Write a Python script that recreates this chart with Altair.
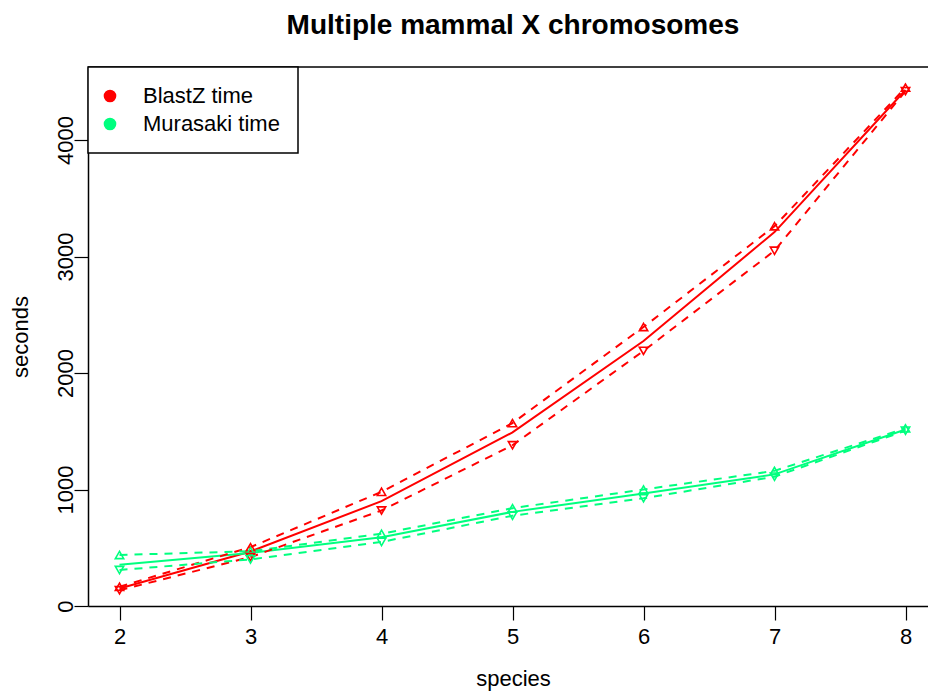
import altair as alt
import pandas as pd

species = [2, 3, 4, 5, 6, 7, 8]

blastz_mean = [150, 468, 900, 1490, 2275, 3210, 4430]
blastz_upper = [165, 505, 980, 1570, 2395, 3260, 4450]
blastz_lower = [135, 420, 820, 1380, 2190, 3050, 4420]

murasaki_mean = [355, 455, 590, 808, 965, 1130, 1515]
murasaki_upper = [438, 470, 620, 840, 1000, 1160, 1525]
murasaki_lower = [309, 400, 550, 775, 925, 1110, 1505]

series_names = ["BlastZ time", "Murasaki time"]
series_colors = ["#FF0000", "#00FF7F"]
y_ticks = [0, 1000, 2000, 3000, 4000]
y_range = [0, 4627]

rows = []
for name, mean, up, lo in [
    (series_names[0], blastz_mean, blastz_upper, blastz_lower),
    (series_names[1], murasaki_mean, murasaki_upper, murasaki_lower),
]:
    for s, m, u, l in zip(species, mean, up, lo):
        rows.append({"series": name, "species": s, "mean": m, "upper": u, "lower": l})
df = pd.DataFrame(rows)

FONT = "Liberation Sans"
W, H = 840, 539

xscale = alt.Scale(domain=[1.7595, 8.1717], nice=False, zero=False)
yscale = alt.Scale(domain=y_range, nice=False, zero=False)
cscale = alt.Scale(domain=series_names, range=series_colors)

x_axis = alt.Axis(
    orient="bottom", values=species, format="d", title="species",
    tickSize=14, labelPadding=6, titleX=425, titleY=79.5,
    titleAlign="center", titleBaseline="alphabetic",
)
y_axis = alt.Axis(
    orient="left", values=y_ticks, format="d", title="seconds",
    tickSize=14, labelPadding=2, labelAngle=-90, labelAlign="center",
    labelBaseline="alphabetic", titleX=-61, titleY=269.5, titleAngle=270,
    titleAlign="center", titleBaseline="alphabetic",
)

legend = alt.Legend(
    orient="none", legendX=0, legendY=0, title=None,
    labelFont=FONT, labelFontSize=22, labelColor="black",
    symbolType="circle", symbolSize=160, symbolStrokeWidth=0, symbolOpacity=1,
    symbolOffset=-7, labelOffset=22, padding=18, rowPadding=6,
    strokeColor="black", fillColor="white",
)

base = alt.Chart(df)


def enc(field, leg=None):
    return dict(
        x=alt.X("species:Q", scale=xscale, axis=x_axis),
        y=alt.Y(f"{field}:Q", scale=yscale, axis=y_axis),
        color=alt.Color("series:N", scale=cscale, legend=leg),
        detail="series:N",
    )


legend_layer = base.mark_circle(size=0, opacity=1).encode(**enc("mean", leg=legend))
mean_lines = base.mark_line(strokeWidth=2).encode(**enc("mean"))
upper_lines = base.mark_line(strokeWidth=2, strokeDash=[8, 7]).encode(**enc("upper"))
lower_lines = base.mark_line(strokeWidth=2, strokeDash=[8, 7]).encode(**enc("lower"))
upper_pts = base.mark_point(shape="triangle-up", filled=False, size=70, strokeWidth=1.6, opacity=1).encode(**enc("upper"))
lower_pts = base.mark_point(shape="triangle-down", filled=False, size=70, strokeWidth=1.6, opacity=1).encode(**enc("lower"))

# top frame line drawn at the top of the y domain
top_frame = alt.Chart(pd.DataFrame({"top": [y_range[1]]})).mark_rule(
    color="black", strokeWidth=1.5
).encode(y=alt.Y("top:Q", scale=yscale, axis=y_axis))

chart = (
    alt.layer(legend_layer, mean_lines, upper_lines, lower_lines, upper_pts, lower_pts, top_frame)
    .properties(
        width=W, height=H,
        title=alt.TitleParams(
            "Multiple mammal X chromosomes", font=FONT, fontSize=28, fontWeight="bold",
            color="black", anchor="middle", dx=5, offset=4, baseline="alphabetic",
            frame="group",
        ),
        autosize=alt.AutoSizeParams(type="none"),
        padding={"left": 88, "top": 67, "right": 0, "bottom": 85},
    )
    .configure_view(stroke=None)
    .configure_axis(
        labelFont=FONT, titleFont=FONT, labelFontSize=22, titleFontSize=22,
        labelColor="black", titleColor="black", titleFontWeight="normal",
        domainColor="black", domainWidth=1.5, tickColor="black", tickWidth=1.2, grid=False,
    )
    .configure_legend(strokeWidth=1.5)
)

chart.save("out.html", embed_options={"renderer": "svg", "actions": False})
